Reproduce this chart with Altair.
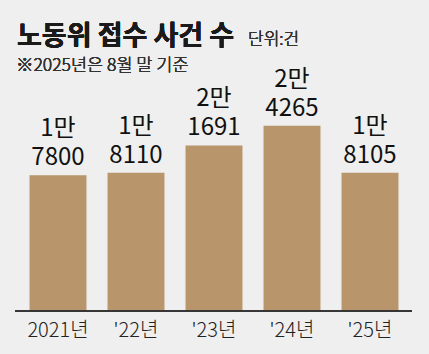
import altair as alt
import pandas as pd

years = ["2021년", "'22년", "'23년", "'24년", "'25년"]
values = [17800, 18110, 21691, 24265, 18105]
label_top = ["1만", "1만", "2만", "2만", "1만"]
label_bottom = ["7800", "8110", "1691", "4265", "8105"]

df = pd.DataFrame({"year": years, "value": values,
                   "label": [a + "\n" + b for a, b in zip(label_top, label_bottom)]})

KR_FONT = "Noto Sans CJK KR"

x = alt.X("year:N", sort=years,
          scale=alt.Scale(paddingInner=0.27, paddingOuter=0.135),
          axis=alt.Axis(title=None, domain=False, ticks=False, labelAngle=0,
                        labelFont=KR_FONT, labelFontSize=20, labelColor="#222",
                        labelFontWeight=300, labelPadding=9))
y = alt.Y("value:Q", scale=alt.Scale(domain=[0, 30000], nice=False),
          axis=None)

base = alt.Chart(df).encode(x=x, y=y)

bars = base.mark_bar(color="#b8956a")
labels = base.mark_text(font=KR_FONT, fontSize=24, dy=-39, baseline="alphabetic",
                        lineBreak="\n", lineHeight=29,
                        color="#111").encode(text="label:N")

axis_line = alt.Chart(df).mark_rule(color="#333", strokeWidth=1).encode(
    x=alt.value(-4), x2=alt.value(393), y=alt.value(229))

title = alt.Chart(df).mark_text(text="노동위 접수 사건 수", font=KR_FONT, fontSize=27,
                                fontWeight="bold", align="left", baseline="alphabetic",
                                color="#1a1a1a").encode(x=alt.value(-2), y=alt.value(-37))
unit = alt.Chart(df).mark_text(text="단위:건", font=KR_FONT, fontSize=17, fontWeight=300,
                               align="left", baseline="alphabetic",
                               color="#333").encode(x=alt.value(229), y=alt.value(-37))
note = alt.Chart(df).mark_text(text="※2025년은 8월 말 기준", font=KR_FONT, fontSize=17.5,
                               fontWeight=300, align="left", baseline="alphabetic",
                               color="#333").encode(x=alt.value(-3), y=alt.value(-11))

chart = alt.layer(bars, labels, axis_line, title, unit, note).properties(
    width=390, height=229,
    padding={"left": 19, "top": 82, "right": 20, "bottom": 43},
    autosize=alt.AutoSizeParams(type="none"),
    background="#efefef",
).configure_view(stroke=None)

chart.save("out.html", embed_options={"renderer": "svg", "actions": False})
